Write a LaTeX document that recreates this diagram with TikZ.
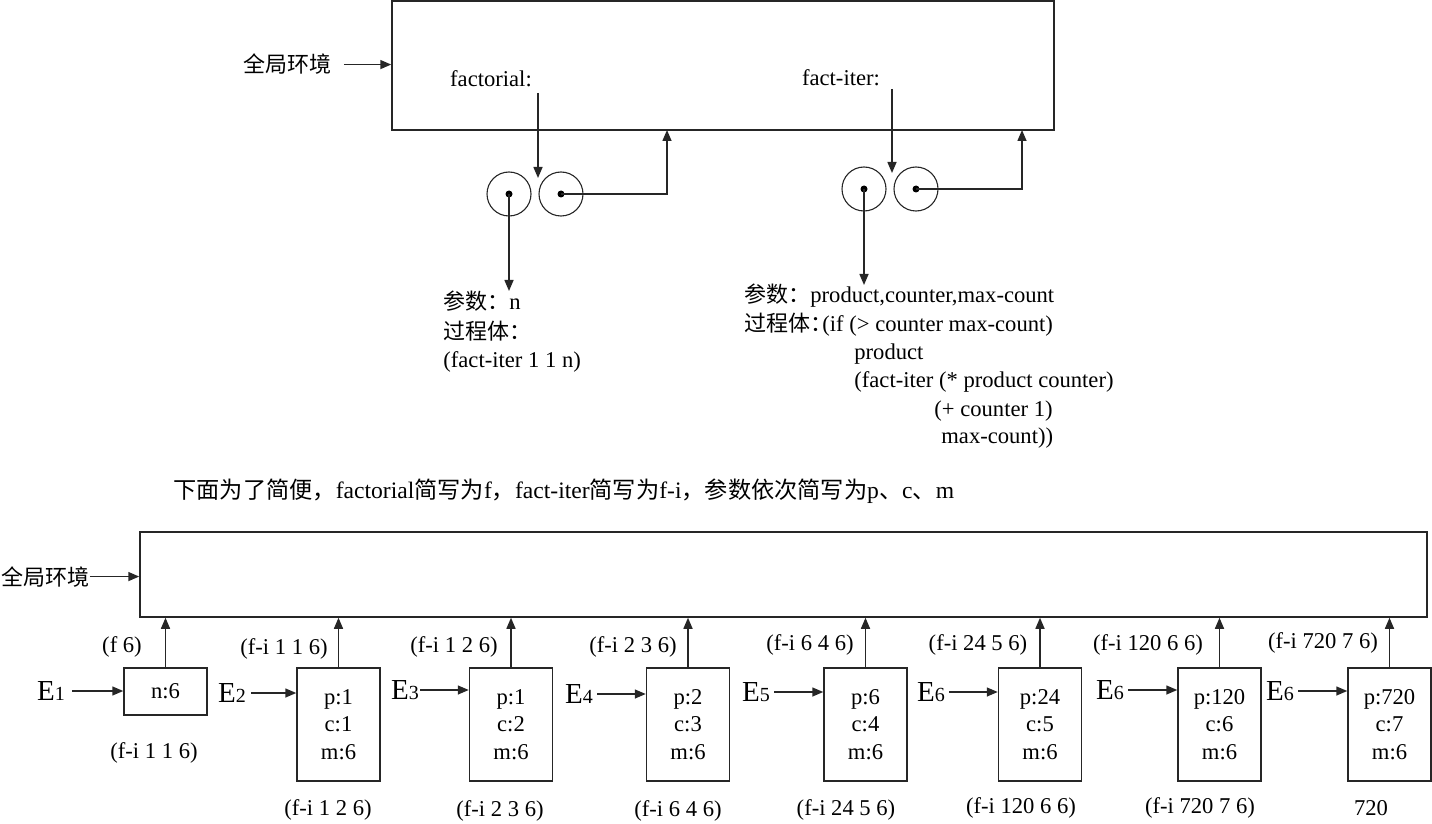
\documentclass[tikz,border=0pt]{standalone}
\usepackage{fontspec}
\setmainfont{Liberation Serif}
\newfontfamily\zhfont{Noto Sans CJK SC}
\newcommand{\zh}[1]{{\zhfont\fontsize{11}{14}\selectfont #1}}
\newcommand{\zhc}[1]{{\zhfont\fontsize{11.6}{14}\selectfont #1}}
\usetikzlibrary{arrows.meta}
\begin{document}
\begin{tikzpicture}[x=0.5pt,y=-0.5pt,
  ln/.style={draw=black!85, line width=0.75pt},
  arr/.style={ln, -{Triangle[length=5.5pt,width=4.5pt]}},
  txt/.style={inner sep=0pt, font=\fontsize{11.3}{14}\selectfont},
  env/.style={ln, inner sep=0pt},
  frame/.style={ln, inner sep=0pt, minimum width=41.5pt, minimum height=56.5pt, align=center, font=\fontsize{11.3}{13.75}\selectfont},
  ring/.style={draw=black!85, line width=0.55pt, circle, minimum size=22pt, inner sep=0pt},
  dotn/.style={circle, fill=black, minimum size=3.5pt, inner sep=0pt},
  elab/.style={inner sep=0pt, font=\fontsize{14.5}{14.5}\selectfont},
]
\useasboundingbox (0,0) rectangle (1432,824);

% ---------------- top part ----------------
\node[env, minimum width=331pt, minimum height=64.5pt] (G) at (723,65.5) {};
\node[txt, anchor=base west] (gl) at (243,73) {\zh{全局环境}};
\draw[arr] ([xshift=6pt]gl.east) -- (gl.east -| G.west);

\node[txt] (fac) at (491,79) {factorial:};
\node[txt] (fit) at (841,78) {fact-iter:};

% procedure objects
\node[ring] (L1) at (509,194) {};
\node[ring] (R1) at (561,194) {};
\node[dotn] (dL1) at (L1.center) {};
\node[dotn] (dR1) at (R1.center) {};
\node[ring] (L2) at (864,189) {};
\node[ring] (R2) at (916,189) {};
\node[dotn] (dL2) at (L2.center) {};
\node[dotn] (dR2) at (R2.center) {};

\coordinate (fa1) at (538,93);
\coordinate (fa2) at (538,178);
\coordinate (fb1) at (892,89);
\coordinate (fb2) at (892,173);
\draw[arr] (fa1) -- (fa2);
\draw[arr] (fb1) -- (fb2);

\coordinate (ga) at (667,130);
\coordinate (gb) at (1022,130);
\draw[arr] (dR1.center) -| (ga);
\draw[arr] (dR2.center) -| (gb);

% texts of procedures
\node[txt, anchor=base west] (l1) at (443,309) {\zh{参数：}n};
\node[txt, anchor=base west] (l2) at (443,339) {\zh{过程体：}};
\node[txt, anchor=base west] (l3) at (443,367) {(fact-iter 1 1 n)};

\node[txt, anchor=base west] (r1) at (744,302) {\zh{参数：}product,counter,max-count};
\node[txt, anchor=base west] (r2) at (744,331) {\zh{过程体：}\kern-5pt(if (> counter max-count)};
\node[txt, anchor=base west] (r3) at (854,359) {product};
\node[txt, anchor=base west] (r4) at (854,387) {(fact-iter (* product counter)};
\node[txt, anchor=base west] (r5) at (934,416) {(+ counter 1)};
\node[txt, anchor=base west] (r6) at (941,444) {max-count))};

\coordinate (pa) at (509,291);
\coordinate (pb) at (864,285);
\draw[arr] (dL1.center) -- (pa);
\draw[arr] (dL2.center) -- (pb);

% caption
\node[inner sep=0pt, font=\fontsize{11.8}{14}\selectfont, anchor=base west] (cap) at (173,498) {\zhc{下面为了简便，}factorial\zhc{简写为}f\zhc{，}fact-iter\zhc{简写为}f-i\zhc{，参数依次简写为}p\zhc{、}c\zhc{、}m};

% ---------------- bottom part ----------------
\node[env, minimum width=643.5pt, minimum height=42.5pt] (G2) at (783.5,574.5) {};
\node[txt, anchor=base west] (gl2) at (1,585) {\zh{全局环境}};
\draw[arr] (gl2.east) -- (gl2.east -| G2.west);

% frames
\node[frame, minimum height=23.5pt] (B1) at (165.5,691.5) {n:6};
\node[frame] (B2) at (338.5,724.5) {p:1\\c:1\\m:6};
\node[frame] (B3) at (511,724.5) {p:1\\c:2\\m:6};
\node[frame] (B4) at (688,724.5) {p:2\\c:3\\m:6};
\node[frame] (B5) at (865.5,724.5) {p:6\\c:4\\m:6};
\node[frame] (B6) at (1040,724.5) {p:24\\c:5\\m:6};
\node[frame] (B7) at (1219.5,724.5) {p:120\\c:6\\m:6};
\node[frame] (B8) at (1389.5,724.5) {p:720\\c:7\\m:6};

% environment labels
\node[elab] (E1) at (51,691) {E{\fontsize{10}{10}\selectfont 1}};
\node[elab] (E2) at (232,693) {E{\fontsize{10}{10}\selectfont 2}};
\node[elab] (E3) at (405,690) {E{\fontsize{10}{10}\selectfont 3}};
\node[elab] (E4) at (579,694) {E{\fontsize{10}{10}\selectfont 4}};
\node[elab] (E5) at (756,692) {E{\fontsize{10}{10}\selectfont 5}};
\node[elab] (E6) at (931,692) {E{\fontsize{10}{10}\selectfont 6}};
\node[elab] (E7) at (1110,690) {E{\fontsize{10}{10}\selectfont 6}};
\node[elab] (E8) at (1280,691) {E{\fontsize{10}{10}\selectfont 6}};

\draw[arr] ([xshift=3.5pt]E1.east) -- (E1.east -| B1.west);
\draw[arr] ([xshift=2.5pt]E2.east) -- (E2.east -| B2.west);
\draw[arr] ([xshift=0.5pt]E3.east) -- (E3.east -| B3.west);
\draw[arr] ([xshift=2pt]E4.east) -- (E4.east -| B4.west);
\draw[arr] ([xshift=2pt]E5.east) -- (E5.east -| B5.west);
\draw[arr] ([xshift=2pt]E6.east) -- (E6.east -| B6.west);
\draw[arr] ([xshift=2pt]E7.east) -- (E7.east -| B7.west);
\draw[arr] ([xshift=2pt]E8.east) -- (E8.east -| B8.west);

% links to global environment
\foreach \b in {B1,B2,B3,B4,B5,B6,B7,B8}
  \draw[arr] (\b.north) -- (\b.north |- G2.south);

% call labels (above)
\node[txt] (t1) at (122,647) {(f 6)};
\node[txt] (t2) at (284,649) {(f-i 1 1 6)};
\node[txt] (t3) at (454,647) {(f-i 1 2 6)};
\node[txt] (t4) at (633,647) {(f-i 2 3 6)};
\node[txt] (t5) at (810,645) {(f-i 6 4 6)};
\node[txt] (t6) at (978,645) {(f-i 24 5 6)};
\node[txt] (t7) at (1148,645) {(f-i 120 6 6)};
\node[txt] (t8) at (1323,643) {(f-i 720 7 6)};

% results (below)
\node[txt] (u1) at (154,753) {(f-i 1 1 6)};
\node[txt] (u2) at (328,810) {(f-i 1 2 6)};
\node[txt] (u3) at (500,811) {(f-i 2 3 6)};
\node[txt] (u4) at (678,811) {(f-i 6 4 6)};
\node[txt] (u5) at (846,810) {(f-i 24 5 6)};
\node[txt] (u6) at (1021,808) {(f-i 120 6 6)};
\node[txt] (u7) at (1200,808) {(f-i 720 7 6)};
\node[txt] (u8) at (1371,808) {720};
\end{tikzpicture}
\end{document}
